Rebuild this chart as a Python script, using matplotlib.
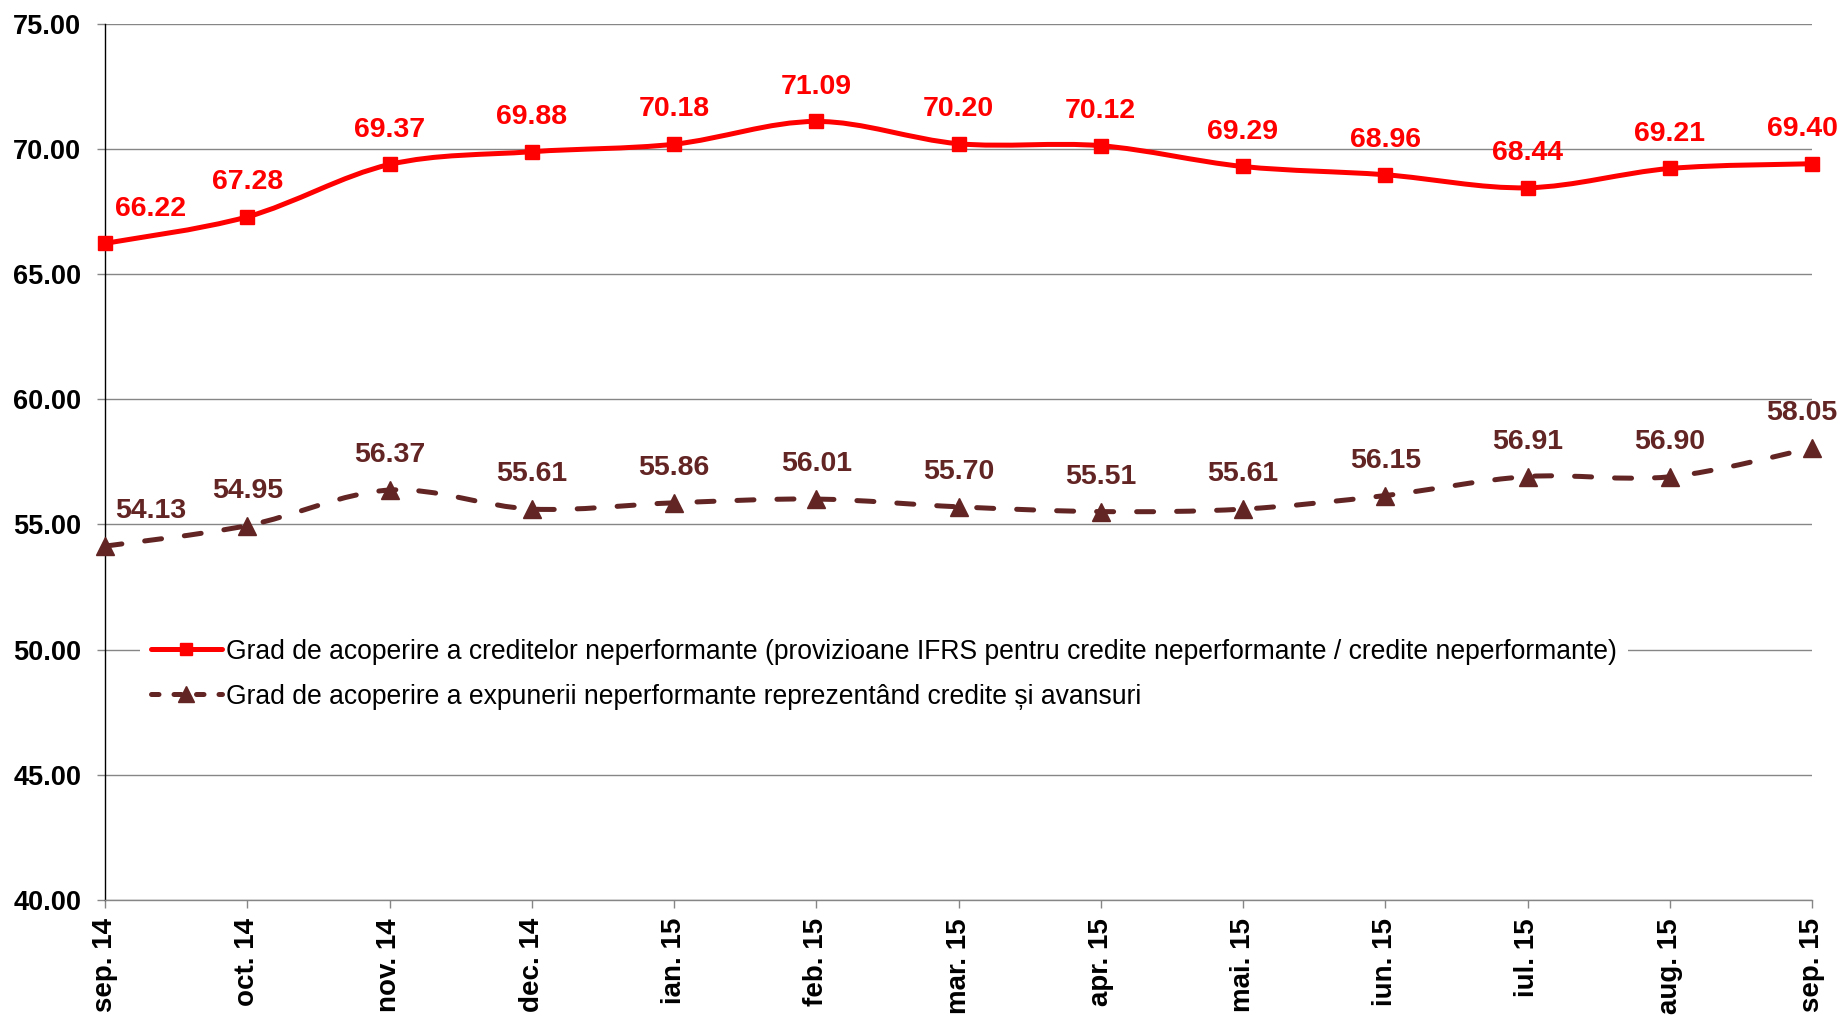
import matplotlib
matplotlib.use("Agg")
import matplotlib.pyplot as plt
from matplotlib.path import Path
from matplotlib.patches import PathPatch
from matplotlib.lines import Line2D

# ---- data ----
months = ["sep. 14", "oct. 14", "nov. 14", "dec. 14", "ian. 15", "feb. 15", "mar. 15",
          "apr. 15", "mai. 15", "iun. 15", "iul. 15", "aug. 15", "sep. 15"]
coverage_loans = [66.22, 67.28, 69.37, 69.88, 70.18, 71.09, 70.20, 70.12, 69.29, 68.96, 68.44, 69.21, 69.40]
coverage_exposure = [54.13, 54.95, 56.37, 55.61, 55.86, 56.01, 55.70, 55.51, 55.61, 56.15, 56.91, 56.90, 58.05]
yticks = [40, 45, 50, 55, 60, 65, 70, 75]
label_loans = "Grad de acoperire a creditelor neperformante (provizioane IFRS pentru credite neperformante / credite neperformante)"
label_exposure = "Grad de acoperire a expunerii neperformante reprezentând credite și avansuri"

RED = "#FF0000"
BROWN = "#632523"
GRID = "#868686"
FONT = ["Liberation Sans", "DejaVu Sans"]
plt.rcParams["font.family"] = FONT

W, H = 1846, 1018
fig = plt.figure(figsize=(W / 100, H / 100), dpi=100)
ax = fig.add_axes([105 / W, 1 - 900 / H, (1812 - 105) / W, (900 - 23.5) / H])

x = list(range(len(months)))


def smooth_path(xs, ys):
    n = len(xs)
    verts = [(xs[0], ys[0])]
    codes = [Path.MOVETO]
    for i in range(n - 1):
        p0 = i - 1 if i > 0 else i
        p3 = i + 2 if i + 2 < n else i + 1
        c1 = (xs[i] + (xs[i + 1] - xs[p0]) / 6.0, ys[i] + (ys[i + 1] - ys[p0]) / 6.0)
        c2 = (xs[i + 1] - (xs[p3] - xs[i]) / 6.0, ys[i + 1] - (ys[p3] - ys[i]) / 6.0)
        verts += [c1, c2, (xs[i + 1], ys[i + 1])]
        codes += [Path.CURVE4] * 3
    return Path(verts, codes)


lw = 3.6
p1 = PathPatch(smooth_path(x, coverage_loans), fill=False, edgecolor=RED, lw=lw,
               capstyle="round", joinstyle="round", zorder=3, clip_on=False)
ax.add_patch(p1)
p2 = PathPatch(smooth_path(x, coverage_exposure), fill=False, edgecolor=BROWN, lw=lw,
               linestyle=(0, (3.4, 4.6)), capstyle="round", joinstyle="round", zorder=3, clip_on=False)
ax.add_patch(p2)

ax.plot(x, coverage_loans, linestyle="none", marker="s", markersize=10.5, color=RED,
        zorder=4, clip_on=False)
ax.plot(x, coverage_exposure, linestyle="none", marker="^", markersize=13, color=BROWN,
        zorder=4, clip_on=False)

# data labels
n = len(x)
for series, color in ((coverage_loans, RED), (coverage_exposure, BROWN)):
    for i, v in enumerate(series):
        if i == 0:
            ha, dx = "left", 7
        elif i == n - 1:
            ha, dx = "center", -7
        else:
            ha, dx = "center", 0
        ax.annotate(f"{v:.2f}", (x[i], v), xytext=(dx, 20), textcoords="offset points",
                    ha=ha, va="baseline", fontsize=20.5, fontweight="bold", color=color,
                    zorder=5, annotation_clip=False)

ax.set_xlim(0, n - 1)
ax.set_ylim(40, 75)
ax.set_yticks(yticks)
ax.set_yticklabels([f"{t:.2f}" for t in yticks], fontsize=19.5, fontweight="bold")
ax.set_xticks(x)
ax.set_xticklabels(months, rotation=90, fontsize=20, fontweight="bold", ha="center", va="top")

ax.yaxis.grid(True, color=GRID, lw=1.0, zorder=0)
ax.set_axisbelow(True)
ax.tick_params(axis="y", direction="out", length=6, width=1.0, color=GRID, pad=11)
ax.tick_params(axis="x", direction="out", length=6, width=1.0, color=GRID, pad=7)

for s in ("top", "right"):
    ax.spines[s].set_visible(False)
ax.spines["left"].set_color("black")
ax.spines["left"].set_linewidth(1.0)
ax.spines["bottom"].set_color(GRID)
ax.spines["bottom"].set_linewidth(1.0)

handles = [
    Line2D([], [], color=RED, lw=lw, marker="s", markersize=9, solid_capstyle="round"),
    Line2D([], [], color=BROWN, lw=lw, marker="^", markersize=11, linestyle=(0, (1.5, 3.0)),
           dash_capstyle="round"),
]
leg = ax.legend(handles, [label_loans, label_exposure], loc="upper left",
                bbox_to_anchor=(140 / W, 1 - 628 / H), bbox_transform=fig.transFigure,
                fontsize=19.1, frameon=True, facecolor="white", edgecolor="none", framealpha=1,
                handlelength=2.7, handletextpad=0.15, labelspacing=0.72, borderpad=0.4,
                borderaxespad=0, fancybox=False)
leg.set_zorder(6)

fig.savefig("out.png", dpi=100)
